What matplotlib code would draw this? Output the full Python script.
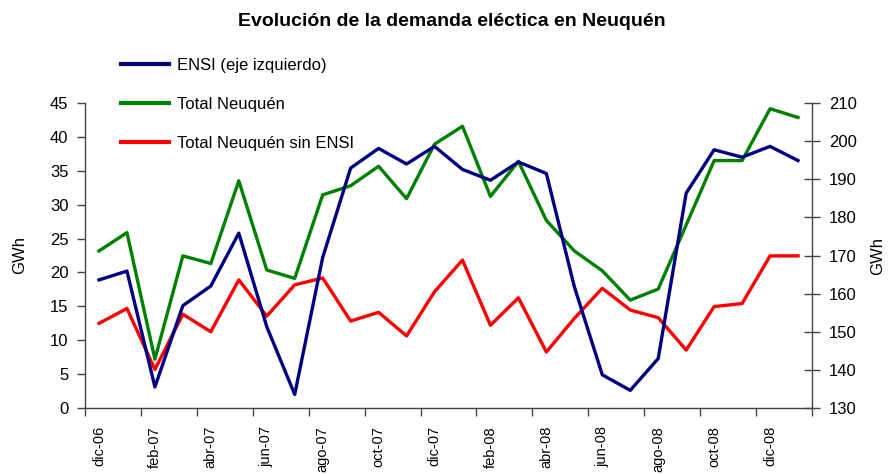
import matplotlib
matplotlib.use("Agg")
import matplotlib.pyplot as plt
from matplotlib import font_manager
import numpy as np

months = ["dic-06", "ene-07", "feb-07", "mar-07", "abr-07", "may-07", "jun-07", "jul-07",
          "ago-07", "sep-07", "oct-07", "nov-07", "dic-07", "ene-08", "feb-08", "mar-08",
          "abr-08", "may-08", "jun-08", "jul-08", "ago-08", "sep-08", "oct-08", "nov-08",
          "dic-08", "ene-09"]
ensi = [18.9, 20.2, 3.1, 15.1, 18.0, 25.8, 12.0, 2.0, 22.2, 35.4, 38.3, 36.0, 38.6,
        35.2, 33.6, 36.3, 34.6, 17.9, 4.9, 2.6, 7.3, 31.7, 38.1, 37.0, 38.6, 36.5]
total = [171.2, 176.0, 142.8, 169.9, 167.9, 189.6, 166.2, 164.0, 185.9, 188.3, 193.4,
         184.9, 199.2, 203.9, 185.5, 194.7, 179.2, 171.2, 166.0, 158.3, 161.2, 178.0,
         194.9, 194.9, 208.5, 206.2]
sin_ensi = [152.2, 156.1, 140.1, 154.6, 150.0, 163.6, 154.1, 162.3, 164.1, 152.8, 155.1,
            148.9, 160.5, 168.8, 151.7, 158.9, 144.7, 153.5, 161.4, 155.7, 153.7, 145.2,
            156.6, 157.4, 169.9, 169.9]

names = {f.name for f in font_manager.fontManager.ttflist}
fam = "Liberation Sans Narrow" if "Liberation Sans Narrow" in names else "Liberation Sans"
plt.rcParams["font.family"] = [fam, "DejaVu Sans"]

fig = plt.figure(figsize=(8.88, 4.74), dpi=100)
ax = fig.add_axes([85/888, 1-408/474, (812-85)/888, (408-103)/474])
ax2 = ax.twinx()

x = np.arange(len(months))
navy = "#000080"
green = "#008000"
red = "#FF0000"
lw = 2.4
l1, = ax.plot(x, ensi, color=navy, lw=lw, label="ENSI (eje izquierdo)", zorder=3)
l2, = ax2.plot(x, total, color=green, lw=lw, label="Total Neuquén", zorder=2)
l3, = ax2.plot(x, sin_ensi, color=red, lw=lw, label="Total Neuquén sin ENSI", zorder=2)

ax.set_zorder(ax2.get_zorder() + 1)
ax.patch.set_visible(False)

ax.set_xlim(-0.5, len(months) - 0.5)
ax.set_ylim(0, 45)
ax.set_yticks(np.arange(0, 46, 5))
ax2.set_ylim(130, 210)
ax2.set_yticks(np.arange(130, 211, 10))

ax.set_xticks(x[::2])
ax.set_xticklabels(months[::2], rotation=90, va="top", ha="center")
ax.set_xticks(np.arange(-0.5, len(months), 2), minor=True)
ax.tick_params(axis="x", which="major", length=0, pad=13, labelsize=10.5)
ax.tick_params(axis="x", which="minor", length=6, width=1, direction="out", color="#444444")
ax.tick_params(axis="y", length=6, width=1, direction="out", labelsize=12, color="#444444", pad=6)
ax2.tick_params(axis="y", length=12, width=1, direction="inout", labelsize=12, color="#444444", pad=6)

for a in (ax, ax2):
    a.spines["top"].set_visible(False)
    for s in a.spines.values():
        s.set_color("#444444")
        s.set_linewidth(1)
ax.spines["right"].set_visible(False)
ax2.spines["left"].set_visible(False)
ax2.spines["bottom"].set_visible(False)

ax.set_ylabel("GWh", fontsize=12, labelpad=16)
ax2.set_ylabel("GWh", fontsize=12, labelpad=10)

fig.text(452/888, 1-22/474, "Evolución de la demanda eléctica en Neuquén",
         ha="center", va="center", fontsize=14, fontweight="bold")

leg = fig.legend(handles=[l1, l2, l3], loc="upper left",
                 bbox_to_anchor=(121/888, 1-58/474), frameon=False,
                 fontsize=12, handlelength=2.9, handletextpad=0.45,
                 labelspacing=1.45, borderaxespad=0, borderpad=0)
for line in leg.get_lines():
    line.set_linewidth(3)

fig.savefig("out.png", dpi=100)
